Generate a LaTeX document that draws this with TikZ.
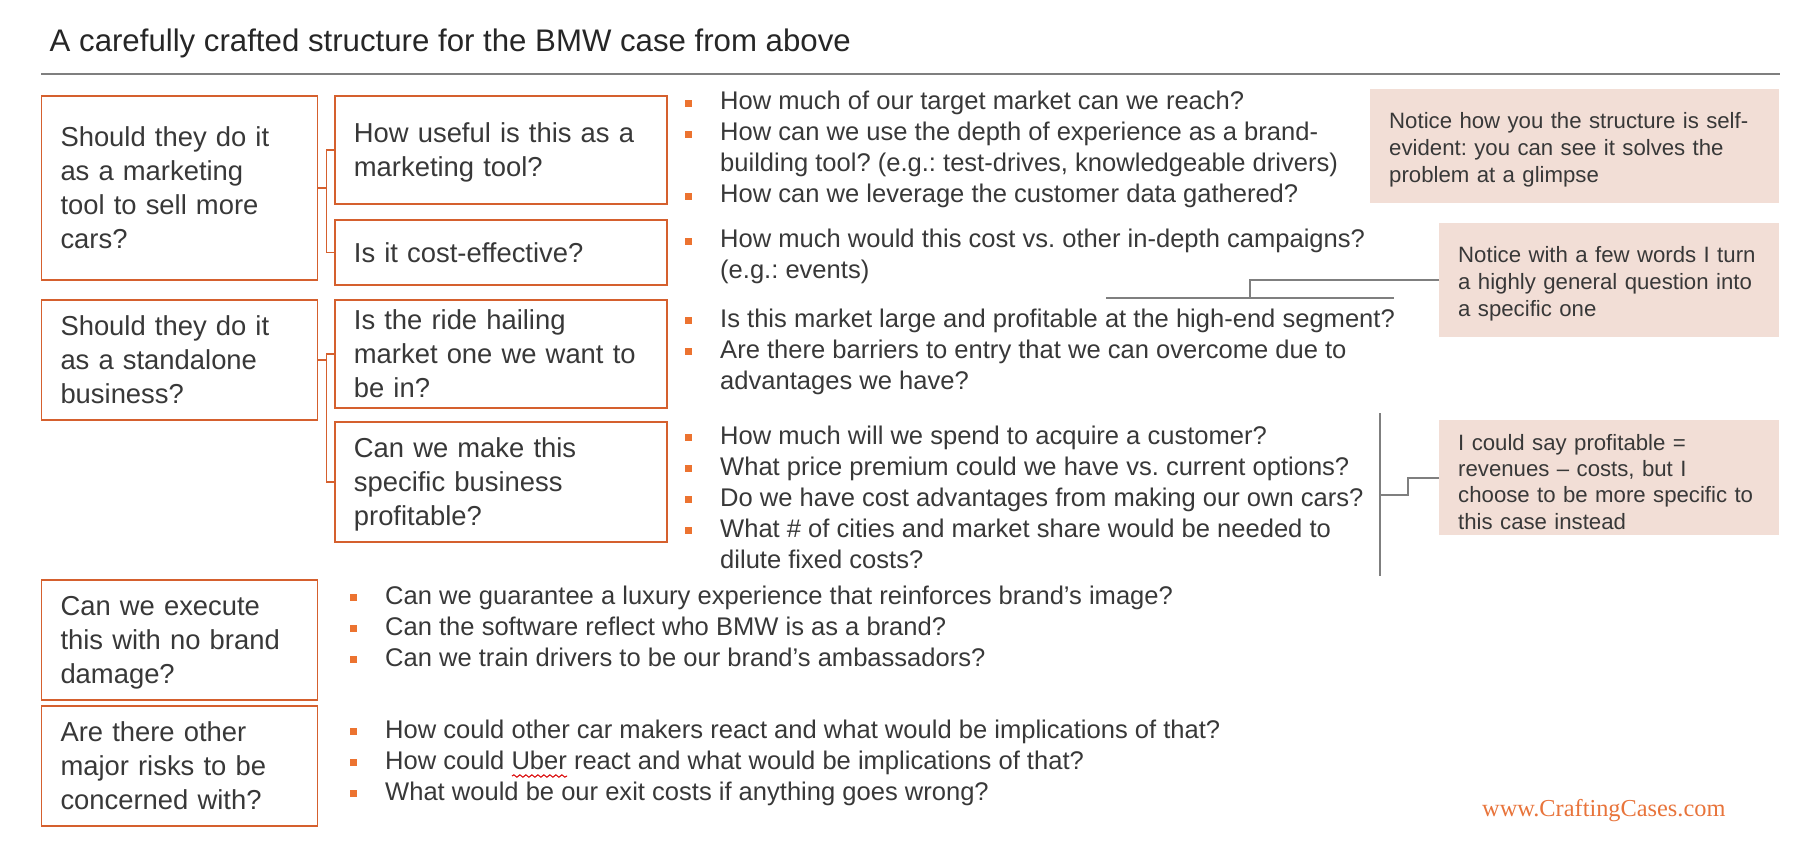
\documentclass[tikz,border=0pt]{standalone}
\usepackage{fontspec}
\setmainfont{Liberation Sans}
\newfontfamily\webfont{Liberation Serif}
\usepackage{xcolor}
\usepackage{tikz}
\usetikzlibrary{calc, decorations.pathmorphing}
\frenchspacing
\definecolor{boxline}{HTML}{D5602E}
\definecolor{bulletc}{HTML}{EC7330}
\definecolor{ink}{HTML}{383838}
\definecolor{titleink}{HTML}{262626}
\definecolor{notebg}{HTML}{F2DED6}
\definecolor{rulegray}{HTML}{7F7F7F}
\definecolor{webc}{HTML}{E8743B}
\newcommand{\qmark}{\llap{\textcolor{bulletc}{\rule[3.1pt]{7pt}{7pt}}\hspace{28.5pt}}}
\tikzset{
  issue/.style={
    draw=boxline,
    line width=1.8pt,
    anchor=north west,
    minimum width=276pt,
    text width=238pt,
    inner xsep=19pt,
    align=left,
    font=\fontsize{27.4}{34}\selectfont,
    text=ink,
    execute at begin node={\rule{0pt}{26pt}},
    execute at end node={\rule[-6pt]{0pt}{0pt}}
  },
  subissue/.style={
    issue,
    minimum width=332pt,
    text width=294pt
  },
  questions/.style={
    anchor=base west,
    align=left,
    inner sep=0pt,
    font=\fontsize{25.55}{31}\selectfont,
    text=ink
  },
  note/.style={
    fill=notebg,
    anchor=north west,
    align=left,
    inner xsep=19pt,
    font=\fontsize{22.2}{27}\selectfont,
    text=ink,
    execute at begin node={\rule{0pt}{24pt}}
  },
  tree/.style={draw=boxline, line width=1.5pt},
  note link/.style={draw=rulegray, line width=2pt}
}

\begin{document}
\begin{tikzpicture}[x=1pt, y=-1pt]
  \useasboundingbox (0,0) rectangle (1820,842);

  \node[anchor=base west, inner sep=0pt, font=\fontsize{31.2}{37}\selectfont, text=titleink] (title) at (49.5,52) {A carefully crafted structure for the BMW case from above};
  \coordinate (ruleL) at (41,74);
  \coordinate (ruleR) at (1780,74);
  \draw[rulegray, line width=2.5pt] (ruleL) -- (ruleR);

  % issue tree
  \node[issue, minimum height=184pt] (mkt) at (40.6,95) {Should they do it\\as a marketing\\tool to sell more\\cars?};
  \node[issue, minimum height=120pt] (solo) at (40.6,299) {Should they do it\\as a standalone\\business?};
  \node[issue, minimum height=120pt] (brand) at (40.6,579) {Can we execute\\this with no brand\\damage?};
  \node[issue, minimum height=120pt] (risk) at (40.6,705) {Are there other\\major risks to be\\concerned with?};

  \node[subissue, minimum height=108pt] (useful) at (334,95) {How useful is this as a\\marketing tool?};
  \node[subissue, minimum height=65pt] (cost) at (334,219) {Is it cost-effective?};
  \node[subissue, minimum height=108pt] (market) at (334,299) {Is the ride hailing\\market one we want to\\be in?};
  \node[subissue, minimum height=120pt] (profit) at (334,421) {Can we make this\\specific business\\profitable?};

  \draw[tree] (mkt.east) -- ++(8,0) |- (useful.west);
  \draw[tree] (mkt.east) -- ++(8,0) |- (cost.west);
  \draw[tree] (solo.east) -- ++(8,0) |- (market.west);
  \draw[tree] (solo.east) -- ++(8,0) |- (profit.west);

  % questions (placed at the baseline of their last line)
  \node[questions] (qUseful) at (720,203) {\qmark How much of our target market can we reach?\\\qmark How can we use the depth of experience as a brand-\\building tool? (e.g.: test-drives, knowledgeable drivers)\\\qmark How can we leverage the customer data gathered?};
  \node[questions] (qCost) at (720,279) {\qmark How much would this cost vs. other in-depth campaigns?\\(e.g.: events)};
  \node[questions] (qMarket) at (720,389) {\qmark Is this market large and profitable at the high-end segment?\\\qmark Are there barriers to entry that we can overcome due to\\advantages we have?};
  \node[questions] (qProfit) at (720,568) {\qmark How much will we spend to acquire a customer?\\\qmark What price premium could we have vs. current options?\\\qmark Do we have cost advantages from making our own cars?\\\qmark What \# of cities and market share would be needed to\\dilute fixed costs?};
  \node[questions] (qBrand) at (385,666) {\qmark Can we guarantee a luxury experience that reinforces brand’s image?\\\qmark Can the software reflect who BMW is as a brand?\\\qmark Can we train drivers to be our brand’s ambassadors?};
  \node[questions] (qRisk) at (385,800) {\qmark How could other car makers react and what would be implications of that?\\\qmark How could Uber react and what would be implications of that?\\\qmark What would be our exit costs if anything goes wrong?};

  \coordinate (uberL) at (512,776);
  \coordinate (uberR) at (567,776);
  \draw[red!85!black, line width=1pt, decorate, decoration={snake, amplitude=1.2pt, segment length=6pt}] (uberL) -- (uberR);

  % side notes
  \node[note, minimum width=409pt, minimum height=114pt, text width=371pt] (noteSelf) at (1370,89) {Notice how you the structure is self-\\evident: you can see it solves the\\problem at a glimpse};
  \node[note, minimum width=340pt, minimum height=114pt, text width=302pt] (noteTurn) at (1439,223) {Notice with a few words I turn\\a highly general question into\\a specific one};
  \node[note, minimum width=340pt, minimum height=115pt, text width=302pt, font=\fontsize{22.2}{26.3}\selectfont, execute at begin node={\rule{0pt}{19.5pt}}] (noteProfit) at (1439,420) {I could say profitable =\\revenues – costs, but I\\choose to be more specific to\\this case instead};

  \coordinate (barL) at (1106,298);
  \coordinate (barR) at (1394,298);
  \draw[note link] (barL) -- (barR);
  \draw[note link] (noteTurn.west) -| ($(barL)!0.5!(barR)$);
  \coordinate (spanT) at (1380,413);
  \coordinate (spanB) at (1380,576);
  \draw[note link] (spanT) -- (spanB);
  \draw[note link] (noteProfit.west) -- ++(-31,0) |- ($(spanT)!0.5!(spanB)$);

  \node[anchor=base west, inner sep=0pt, font=\webfont\fontsize{24.35}{28}\selectfont, text=webc] (web) at (1482,816) {www.CraftingCases.com};
\end{tikzpicture}
\end{document}
